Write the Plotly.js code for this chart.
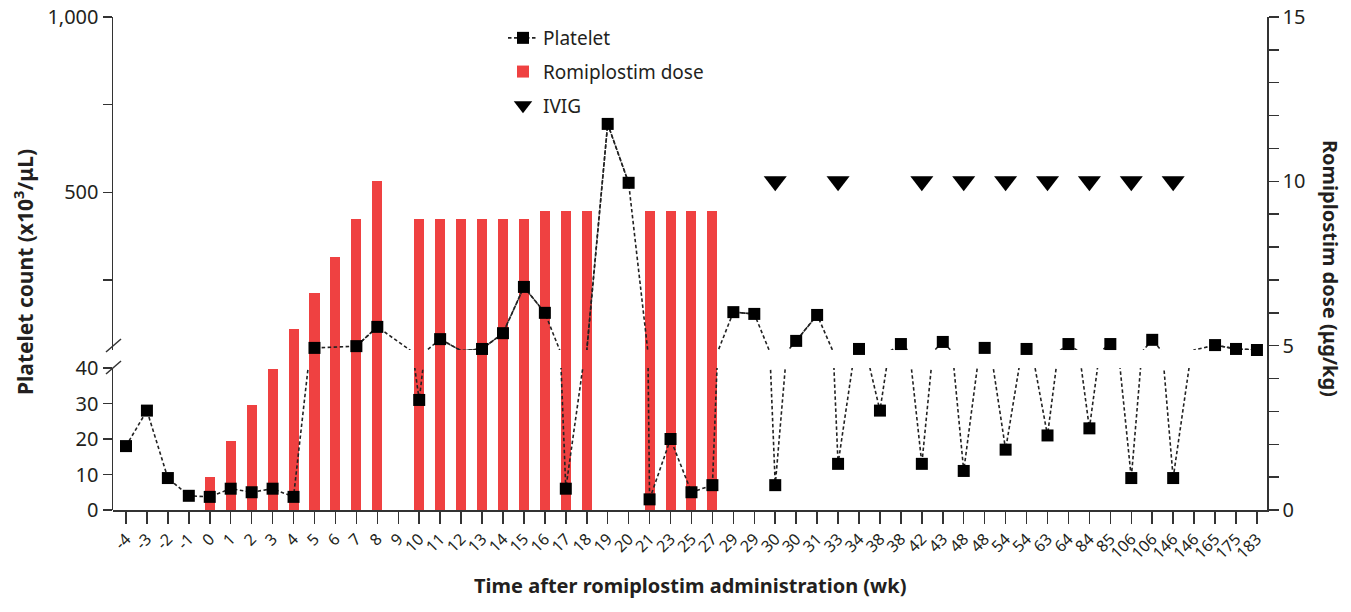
<!DOCTYPE html>
<html><head><meta charset="utf-8">
<script src="https://cdn.plot.ly/plotly-3.0.1.min.js"></script>
<style>html,body{margin:0;padding:0;background:#fff}</style>
</head><body><div id="chart" style="width:1351px;height:612px"></div>
<script>
// Time after romiplostim administration (wk) - category labels (duplicates are separate visits)
const weeks = ['-4','-3','-2','-1','0','1','2','3','4','5','6','7','8','9','10','11','12','13','14','15','16','17','18','19','20','21','23','25','27','29','29','30','30','31','33','34','38','38','42','43','48','48','54','54','63','64','84','85','106','106','146','146','165','175','183'];
// Platelet count (x10^3/uL)
const platelet = [18,28,9,4,3.7,6,5,6,3.7,56,null,61,116,null,31,81,48,53,98,230,156,6,48,695,527,3,20,5,7,158,153,7,76,150,13,53,28,67,13,73,11,56,17,53,21,67,23,67,9,79,9,50,64,53,50];
// Romiplostim dose (ug/kg)
const dose = [null,null,null,null,1.0,2.1,3.2,4.3,5.5,6.6,7.7,8.85,10,null,8.85,8.85,8.85,8.85,8.85,8.85,9.1,9.1,9.1,null,null,9.1,9.1,9.1,9.1,null,null,null,null,null,null,null,null,null,null,null,null,null,null,null,null,null,null,null,null,null,null,null,null,null,null];
// IVIG given (1 = yes)
const ivig = [0,0,0,0,0,0,0,0,0,0,0,0,0,0,0,0,0,0,0,0,0,0,0,0,0,0,0,0,0,0,0,1,0,0,1,0,0,0,1,0,1,0,1,0,1,0,1,0,1,0,1,0,0,0,0];
// visits where the reference shows no marker symbol
const unmarked = [51];

const LOWER_MAX = 40, UPPER_MIN = 50, IVIG_LEVEL = 10;
const idx = weeks.map((_, i) => i);
const lowerPts = platelet.map((v, i) => (v !== null && v <= LOWER_MAX && !unmarked.includes(i)) ? v : null);
const upperPts = platelet.map((v, i) => (v !== null && v > LOWER_MAX && !unmarked.includes(i)) ? v : null);
const ivigX = idx.filter(i => ivig[i] === 1);
const ivigY = ivigX.map(() => IVIG_LEVEL);

const FONT = 'Noto Sans, Open Sans, DejaVu Sans, sans-serif';
const INK = '#231f20';
const dashLine = {color: '#222', width: 1.6, dash: '3.5px,2.5px'};
const sq = {symbol: 'square', size: 12, color: '#000'};

const traces = [
  {type: 'bar', x: idx, y: dose, yaxis: 'y', xaxis: 'x', width: 0.48,
   marker: {color: '#EF4141'}, name: 'Romiplostim dose', legendrank: 2, legendgroup: 'b', hoverinfo: 'skip'},
  {type: 'scatter', mode: 'markers', x: ivigX, y: ivigY, yaxis: 'y', xaxis: 'x',
   marker: {symbol: 'triangle-down', size: 20, color: '#000'}, name: 'IVIG', legendrank: 3, legendgroup: 'c', cliponaxis: false},
  {type: 'scatter', mode: 'lines', x: idx, y: platelet, yaxis: 'y2', xaxis: 'x', connectgaps: true,
   line: dashLine, showlegend: false, hoverinfo: 'skip'},
  {type: 'scatter', mode: 'lines', x: idx, y: platelet, yaxis: 'y3', xaxis: 'x', connectgaps: true,
   line: dashLine, showlegend: false, hoverinfo: 'skip'},
  {type: 'scatter', mode: 'markers', x: idx, y: lowerPts, yaxis: 'y2', xaxis: 'x',
   marker: sq, showlegend: false, cliponaxis: false},
  {type: 'scatter', mode: 'lines+markers', x: idx, y: upperPts, yaxis: 'y3', xaxis: 'x',
   line: dashLine, marker: sq, name: 'Platelet', legendrank: 1, legendgroup: 'a', cliponaxis: false}
];

const H = 493, W = 1154;
const px = p => (p - 113) / W;
const py = p => (510 - p) / H;

const axisCommon = {showgrid: false, zeroline: false, showline: true, linecolor: '#333', linewidth: 1.5,
  ticks: 'outside', tickcolor: '#333', tickwidth: 1.5, tickfont: {family: FONT, size: 20, color: INK}};

const layout = {
  width: 1351, height: 612,
  margin: {l: 113, r: 84, t: 17, b: 102, pad: 0},
  paper_bgcolor: '#fff', plot_bgcolor: 'rgba(0,0,0,0)',
  font: {family: FONT, color: INK},
  showlegend: true,
  bargap: 0,
  xaxis: Object.assign({}, axisCommon, {domain: [0, 1], range: [-0.62, 54.48], anchor: 'y',
    tickmode: 'array', tickvals: idx, ticktext: weeks, tickangle: -45, ticklen: 12,
    tickfont: {family: FONT, size: 16, color: INK}}),
  yaxis: Object.assign({}, axisCommon, {domain: [0, 1], range: [0, 15], side: 'right', anchor: 'x',
    tickmode: 'array', tickvals: [0, 5, 10, 15], ticklen: 10,
    minor: {tickmode: 'linear', tick0: 0, dtick: 1, ticks: 'outside', ticklen: 10, tickcolor: '#333', tickwidth: 1.5}}),
  yaxis2: Object.assign({}, axisCommon, {domain: [0, py(368)], range: [0, LOWER_MAX], side: 'left', anchor: 'x',
    tickmode: 'array', tickvals: [0, 10, 20, 30, 40], ticklen: 9}),
  yaxis3: Object.assign({}, axisCommon, {domain: [py(350), 1], range: [UPPER_MIN, 1000], side: 'left', anchor: 'x',
    tickmode: 'array', tickvals: [500, 1000], ticktext: ['500', '1,000'], ticklen: 9,
    minor: {tickmode: 'array', tickvals: [250, 750], ticks: 'outside', ticklen: 9, tickcolor: '#333', tickwidth: 1.5}}),
  legend: {x: px(503), y: py(19), xanchor: 'left', yanchor: 'top', bgcolor: 'rgba(0,0,0,0)',
    font: {family: FONT, size: 19, color: INK}, tracegroupgap: 6, itemwidth: 30},
  shapes: [
    {type: 'line', xref: 'paper', yref: 'paper', x0: px(106), y0: py(352), x1: px(121), y1: py(339), line: {color: '#333', width: 1.5}},
    {type: 'line', xref: 'paper', yref: 'paper', x0: px(106), y0: py(374), x1: px(121), y1: py(361), line: {color: '#333', width: 1.5}}
  ],
  annotations: [
    {xref: 'paper', yref: 'paper', x: px(23), y: py(272), xanchor: 'center', yanchor: 'middle',
     text: 'Platelet count (x10<sup>3</sup>/μL)', textangle: -90,
     showarrow: false, font: {family: FONT, size: 21, color: INK, weight: 'bold'}},
    {xref: 'paper', yref: 'paper', x: px(1331), y: py(268), xanchor: 'center', yanchor: 'middle',
     text: 'Romiplostim dose (μg/kg)', textangle: 90,
     showarrow: false, font: {family: FONT, size: 20, color: INK, weight: 'bold'}},
    {xref: 'paper', yref: 'paper', x: 0.5, y: py(585), xanchor: 'center', yanchor: 'middle',
     text: 'Time after romiplostim administration (wk)',
     showarrow: false, font: {family: FONT, size: 20, color: INK, weight: 'bold'}}
  ]
};

Plotly.newPlot('chart', traces, layout, {staticPlot: true, displayModeBar: false});
</script></body></html>
